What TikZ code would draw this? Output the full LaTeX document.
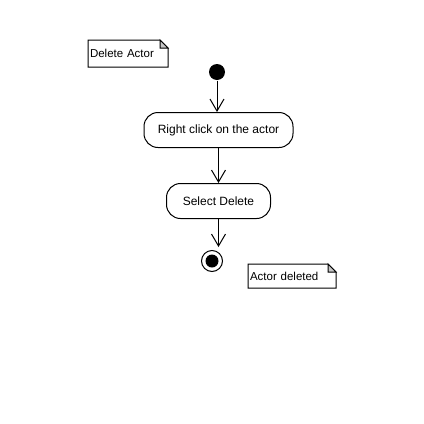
\documentclass[tikz,border=0pt]{standalone}
\usepackage{fontspec}
\setmainfont{Liberation Sans}
\usepackage{tikz}
\usetikzlibrary{arrows.meta}

\newcommand{\dogear}[1]{%
\draw (#1.south west) -- (#1.north west) -- ([xshift=-8pt]#1.north east) -- ([yshift=-8pt]#1.north east) -- (#1.south east) -- cycle;
\draw[fill=gray!45] ([xshift=-8pt]#1.north east) -- ([xshift=-8pt,yshift=-8pt]#1.north east) -- ([yshift=-8pt]#1.north east) -- cycle;}

\begin{document}
\begin{tikzpicture}[x=1pt,y=1pt,line width=1pt,
  every node/.style={font=\fontsize{12}{14}\selectfont},
  note/.style={inner xsep=1.5pt,inner ysep=0pt,minimum height=#1,align=left,anchor=west,
    font=\fontsize{11.5}{13}\selectfont},
  activity/.style={draw,rounded corners=14pt,minimum height=35pt,inner xsep=10pt},
  initial/.style={circle,fill,minimum size=16pt,inner sep=0pt},
  final/.style={circle,draw,minimum size=21pt,inner sep=0pt,
    path picture={\fill (path picture bounding box.center) circle (6.5pt);}},
  flow/.style={-{Straight Barb[length=12pt,width=14pt,line width=1pt]}}]
\useasboundingbox (0,0) rectangle (424,-424);
\node[note=26pt,text width=76pt] (delnote) at (88,-53.5) {Delete Actor};
\dogear{delnote}
\node[initial] (start) at (217,-72) {};
\node[activity,minimum width=149pt] (rclick) at (218.5,-130) {Right click on the actor};
\node[activity,minimum width=104pt] (seldel) at (218.5,-201) {Select Delete};
\node[final] (stop) at (212,-261) {};
\node[note=23pt,text width=84pt] (delnote2) at (248,-276) {Actor deleted};
\dogear{delnote2}
\draw[flow] (start) -- (start |- rclick.north);
\draw[flow] (rclick) -- (seldel);
\draw[flow] (seldel.south) -- ([yshift=3pt]seldel.south |- stop.north);
\end{tikzpicture}
\end{document}
